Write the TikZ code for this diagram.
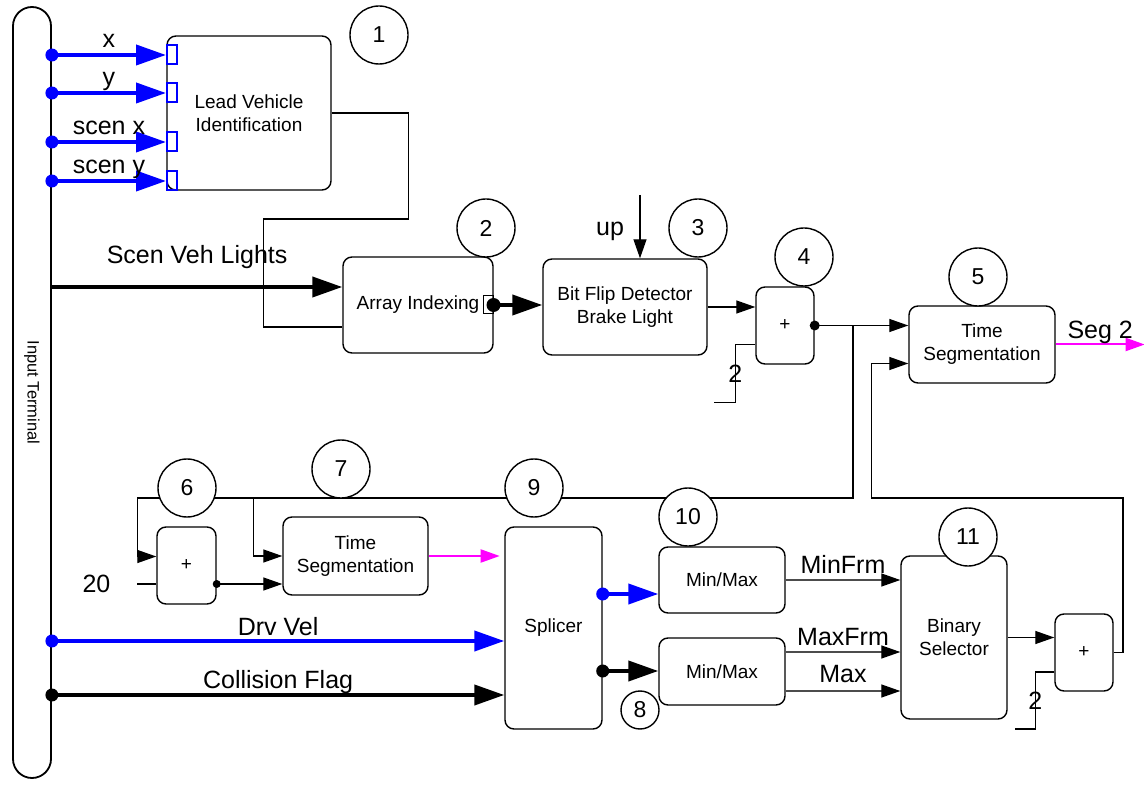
\documentclass[tikz,border=0pt]{standalone}
\usepackage{fontspec}
\setmainfont{Liberation Sans}
\usepackage{tikz}
\usetikzlibrary{arrows.meta,positioning,calc}
\definecolor{sigblue}{HTML}{0000FF}
\definecolor{segpink}{HTML}{FF00FF}
\tikzset{block/.style={draw,rounded corners=9pt,line width=1.4pt,align=center,inner sep=2pt,font=\fontsize{19}{23}\selectfont},tag/.style={circle,draw,fill=white,line width=1.4pt,minimum size=58pt,inner sep=0pt,font=\fontsize{23}{23}\selectfont},port/.style={draw,inner sep=0pt,minimum width=10pt,minimum height=19pt},wire/.style={line width=1.3pt},flow/.style={wire,-{Triangle[length=19pt,width=13pt]}},pale/.style={wire,black!70,-{Triangle[length=19pt,width=13pt,black]}},bus/.style={line width=4pt,-{Triangle[length=30pt,width=20pt]}},seg/.style={segpink,line width=2pt,-{Triangle[length=19pt,width=13pt]}},lab/.style={anchor=base,inner sep=0pt,text=black,font=\fontsize{25}{25}\selectfont},num/.style={font=\fontsize{25}{25}\selectfont}}

\begin{document}
\begin{tikzpicture}[x=1pt,y=-1pt]
\useasboundingbox (0,0) rectangle (1144,786);
\node[draw,line width=1.8pt,rounded corners=19pt,minimum width=771pt,minimum height=38pt,inner sep=0pt,rotate=-90,font=\fontsize{16.5}{18}\selectfont] (term) at (32,392.5) {Input Terminal};
\node[block,minimum width=164pt,minimum height=154pt] (lvi) at (249,113) {Lead Vehicle\\Identification};
\node[block,minimum width=150pt,minimum height=96pt] (arr) at (418,305) {Array Indexing};
\node[block,minimum width=164pt,minimum height=96pt] (bfd) at (625,307) {Bit Flip Detector\\Brake Light};
\node[block,minimum width=58pt,minimum height=77pt] (sumA) at (785,325.5) {+};
\node[block,minimum width=146pt,minimum height=77pt] (segA) at (982,344.5) {Time\\Segmentation};
\node[block,minimum width=59pt,minimum height=77pt] (sumB) at (186.5,565.5) {+};
\node[block,minimum width=145pt,minimum height=78pt] (segB) at (355.5,556) {Time\\Segmentation};
\node[block,minimum width=97pt,minimum height=202pt] (splice) at (553.5,628) {Splicer};
\node[block,minimum width=126pt,minimum height=66pt] (mmA) at (722,580) {Min/Max};
\node[block,minimum width=126pt,minimum height=67pt] (mmB) at (722,671.5) {Min/Max};
\node[block,minimum width=106pt,minimum height=163pt] (binsel) at (954,637.5) {Binary\\Selector};
\node[block,minimum width=58pt,minimum height=77pt] (sumC) at (1084,652.5) {+};
\node[port,draw=sigblue,line width=2pt] (px) at (172,55) {};
\node[port,draw=sigblue,line width=2pt] (py) at (172,93) {};
\node[port,draw=sigblue,line width=2pt] (psx) at (172,142) {};
\node[port,draw=sigblue,line width=2pt] (psy) at (172,181) {};
\node[port,line width=1pt,minimum height=18pt] (parr) at (488,305) {};

\foreach \p/\t in {px/x,py/y,psx/scen x,psy/scen y}{\fill[sigblue] (term.north |- \p) circle (6.5pt); \draw[bus,sigblue] (term.north |- \p) -- (\p.west) node[midway,lab,yshift=7pt]{\t};}
\draw[wire] (lvi.east) -| ++(77,106) -| ([xshift=-79pt,yshift=-22pt]arr.west) -- ([yshift=-22pt]arr.west);
\coordinate (svl) at ([yshift=18pt]arr.west);
\draw[bus] (svl -| term.north) -- (svl) node[midway,lab,yshift=23pt]{Scen Veh Lights};
\fill (parr.east) circle (7pt);
\draw[bus] (parr.east) -- (parr.east -| bfd.west);
\coordinate (upin) at (640,195);
\draw[flow] (upin) -- (upin |- bfd.north) node[pos=.57,left=12pt,num]{up};
\draw[flow] (bfd.east) -- (bfd.east -| sumA.west);
\draw[wire] ([yshift=-19pt]sumA.west) -- ++(-20,0) -- ++(0,58) node[midway,num]{2} -- ++(-21,0);
\fill (sumA.east) circle (5pt);
\draw[flow] (sumA.east) -- (sumA.east -| segA.west);
\draw[seg] (segA.east) -- ++(89,0) node[midway,lab,yshift=6pt]{Seg 2};

\coordinate (fbA) at (853,498);
\coordinate (brB) at ([xshift=-29pt]segB.west);
\draw[flow] (sumA.east -| fbA) -- (fbA) -| ([xshift=-19pt,yshift=9pt]sumB.west) -- ([yshift=9pt]sumB.west);
\draw[flow] (brB |- fbA) -- (brB) -- (segB.west);
\draw[wire] ([yshift=-18.5pt]sumB.west) -- ++(-19,0) node[left=23pt,num]{20};
\coordinate (sbo) at ([yshift=-18.5pt]sumB.east);
\fill (sbo) circle (4pt);
\draw[flow] (sbo) -- (sbo -| segB.west);
\draw[seg] (segB.east) -- ++(71,0);

\coordinate (dvi) at ([yshift=-13pt]splice.west);
\fill[sigblue] (dvi -| term.north) circle (6.5pt);
\draw[bus,sigblue] (dvi -| term.north) -- (dvi) node[midway,lab,yshift=6pt]{Drv Vel};
\coordinate (cfi) at ([yshift=-67pt]splice.west);
\fill (cfi -| term.north) circle (6.5pt);
\draw[bus] (cfi -| term.north) -- (cfi) node[midway,lab,yshift=7pt]{Collision Flag};

\coordinate (spA) at ([yshift=34pt]splice.east);
\fill[sigblue] (spA) circle (6.5pt);
\draw[bus,sigblue] (spA) -- (spA -| mmA.west);
\coordinate (spB) at ([yshift=-43pt]splice.east);
\fill (spB) circle (6.5pt);
\draw[bus] (spB) -- (spB -| mmB.west);
\coordinate (mxA) at ([yshift=19.5pt]mmB.east);
\coordinate (mxB) at ([yshift=-19.5pt]mmB.east);
\draw[pale] (mmA.east) -- (mmA.east -| binsel.west) node[midway,lab,yshift=7pt]{MinFrm};
\draw[pale] (mxA) -- (mxA -| binsel.west) node[midway,lab,yshift=7pt]{MaxFrm};
\draw[pale] (mxB) -- (mxB -| binsel.west) node[midway,lab,yshift=9pt]{Max};
\draw[flow] (binsel.east) -- (binsel.east -| sumC.west);
\draw[wire] ([yshift=-19.5pt]sumC.west) -- ++(-19,0) -- ++(0,57) node[midway,num]{2} -- ++(-20,0);
\coordinate (fbB) at (1123,498);
\draw[flow] (sumC.east) -| (fbB) -| ([xshift=-37pt,yshift=-19pt]segA.west) -- ([yshift=-19pt]segA.west);

\foreach \n/\x/\y in {1/379/35,2/486/228,3/698/228,4/804/257,5/978/277,6/187/488,7/341/469,9/534/488,10/688/517,11/968/537}{\node[tag] (n\n) at (\x,\y) {\n};}
\node[tag,minimum size=38pt] (n8) at (640,710) {8};
\end{tikzpicture}
\end{document}
